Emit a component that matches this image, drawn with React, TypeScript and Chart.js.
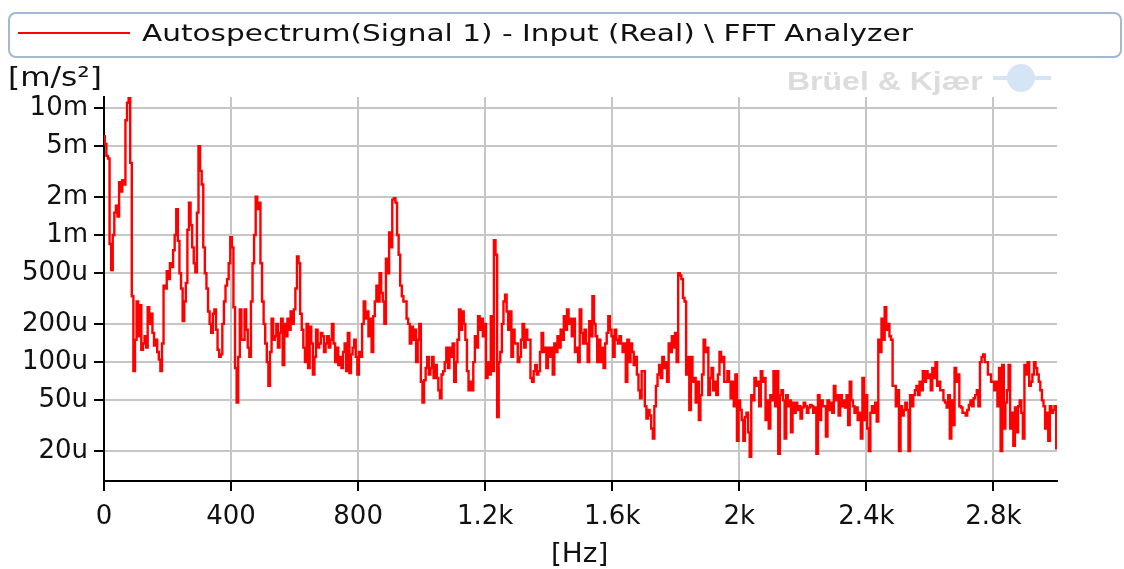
import React, { useEffect, useRef } from 'react';
import { Chart, registerables } from 'chart.js';

Chart.register(...registerables);

// FFT line spacing of the displayed spectrum (Hz)
const FREQ_STEP_HZ = 5;

// Autospectrum magnitude, in micro m/s² (u), one value per FFT line, 0 … 3000 Hz
const SPECTRUM_U = [
  6000, 5200, 4200, 4000, 850, 530, 1000, 1500, 1700, 1400, 2600, 2200, 2700, 2500, 8000, 11000, 12000, 3700, 330, 85,
  150, 300, 160, 280, 125, 140, 160, 130, 270, 200, 240, 170, 135, 150, 120, 105, 85, 140, 400, 380,
  520, 450, 600, 560, 760, 1000, 1600, 900, 500, 380, 210, 300, 420, 1100, 1800, 1200, 800, 600, 510, 1500,
  5000, 3200, 2500, 800, 500, 380, 250, 200, 170, 240, 260, 180, 125, 110, 115, 200, 300, 400, 450, 600,
  960, 800, 270, 90, 48, 110, 260, 150, 150, 260, 180, 130, 110, 300, 600, 1000, 2000, 1600, 1800, 600,
  300, 200, 140, 100, 65, 120, 220, 150, 160, 200, 130, 170, 220, 95, 200, 160, 220, 180, 250, 200,
  260, 380, 680, 600, 240, 180, 130, 100, 200, 90, 190, 140, 80, 110, 180, 130, 140, 170, 160, 120,
  140, 160, 130, 150, 200, 140, 100, 130, 95, 110, 90, 120, 140, 85, 170, 82, 115, 130, 150, 110,
  80, 120, 110, 200, 300, 220, 250, 160, 220, 120, 230, 300, 400, 300, 500, 350, 300, 200, 650, 500,
  1050, 800, 1900, 1950, 1800, 1000, 700, 400, 330, 300, 300, 220, 200, 140, 190, 150, 180, 100, 150, 200,
  70, 48, 72, 90, 110, 80, 90, 110, 75, 95, 75, 60, 52, 80, 85, 100, 130, 90, 130, 110,
  140, 70, 100, 150, 260, 180, 250, 200, 150, 85, 60, 70, 60, 100, 160, 130, 230, 180, 220, 160,
  200, 75, 100, 80, 230, 85, 910, 700, 37, 100, 120, 200, 300, 340, 250, 180, 250, 110, 180, 140,
  140, 100, 110, 150, 200, 130, 180, 150, 150, 75, 70, 85, 95, 80, 85, 120, 170, 120, 130, 90,
  130, 110, 130, 80, 140, 120, 160, 130, 180, 150, 230, 180, 260, 200, 220, 160, 220, 120, 130, 100,
  260, 170, 140, 180, 140, 100, 210, 160, 330, 200, 160, 100, 150, 100, 130, 90, 140, 170, 230, 180,
  160, 110, 180, 150, 140, 160, 140, 120, 140, 70, 150, 100, 140, 120, 95, 110, 80, 60, 52, 85,
  85, 45, 36, 42, 38, 30, 25, 45, 65, 80, 95, 75, 110, 90, 100, 70, 140, 120, 160, 130,
  170, 100, 500, 480, 450, 320, 300, 80, 110, 42, 110, 70, 75, 48, 70, 35, 55, 80, 150, 120,
  130, 55, 75, 90, 60, 70, 55, 80, 120, 100, 110, 70, 70, 85, 70, 52, 70, 45, 80, 24,
  50, 42, 35, 24, 37, 40, 28, 18, 55, 50, 75, 65, 70, 45, 85, 70, 75, 35, 50, 30,
  55, 50, 85, 45, 85, 19, 55, 60, 50, 25, 55, 45, 50, 28, 48, 40, 48, 42, 45, 36,
  44, 48, 45, 40, 44, 46, 45, 40, 44, 19, 55, 35, 50, 45, 45, 26, 50, 42, 48, 40,
  65, 50, 55, 38, 55, 45, 50, 44, 55, 32, 70, 50, 45, 40, 44, 35, 40, 25, 75, 35,
  55, 30, 20, 40, 45, 40, 48, 34, 150, 120, 220, 150, 270, 180, 200, 160, 150, 65, 65, 45,
  60, 20, 45, 38, 42, 48, 42, 20, 55, 45, 55, 60, 65, 55, 70, 60, 85, 70, 85, 75,
  80, 60, 90, 75, 100, 65, 70, 60, 60, 50, 48, 44, 55, 25, 50, 32, 90, 70, 80, 45,
  44, 40, 40, 38, 42, 46, 50, 45, 52, 55, 60, 45, 100, 110, 115, 100, 100, 80, 80, 70,
  70, 60, 70, 45, 90, 20, 95, 30, 48, 60, 95, 30, 40, 22, 44, 28, 45, 50, 40, 25,
  95, 80, 100, 65, 70, 80, 100, 90, 80, 70, 60, 50, 45, 30, 40, 24, 45, 40, 42, 45,
  21,
];

const X_MIN = 0;
const X_MAX = 3000;
const X_TICKS = [0, 400, 800, 1200, 1600, 2000, 2400, 2800];
const X_TICK_LABELS = ['0', '400', '800', '1.2k', '1.6k', '2k', '2.4k', '2.8k'];

const Y_MIN = 11.6e-6;
const Y_MAX = 12.2e-3;
const Y_TICKS = [20e-6, 50e-6, 100e-6, 200e-6, 500e-6, 1e-3, 2e-3, 5e-3, 10e-3];
const Y_TICK_LABELS = ['20u', '50u', '100u', '200u', '500u', '1m', '2m', '5m', '10m'];

const LEGEND_LABEL = 'Autospectrum(Signal 1) - Input (Real) \\ FFT Analyzer';
const Y_UNIT = '[m/s²]';
const X_UNIT = '[Hz]';
const WATERMARK = 'Brüel & Kjær';

const FONT = "'DejaVu Sans', Verdana, sans-serif";
const TEXT_COLOR = '#111111';
const GRID_COLOR = '#c6c6c6';

export default function App() {
  const canvasRef = useRef<HTMLCanvasElement>(null);

  useEffect(() => {
    const canvas = canvasRef.current;
    if (!canvas) return;
    const points = SPECTRUM_U.map((v, i) => ({ x: i * FREQ_STEP_HZ, y: v * 1e-6 }));
    const chart = new Chart(canvas, {
      type: 'line',
      data: {
        datasets: [
          {
            label: LEGEND_LABEL,
            data: points,
            borderColor: '#ff0000',
            borderWidth: 2.4,
            pointRadius: 0,
            stepped: 'middle',
            fill: false,
          },
        ],
      },
      options: {
        responsive: false,
        animation: false,
        events: [],
        layout: { padding: { top: 97, right: 67, left: 0, bottom: 0 } },
        plugins: {
          legend: { display: false },
          tooltip: { enabled: false },
          title: { display: false },
        },
        scales: {
          x: {
            type: 'linear',
            min: X_MIN,
            max: X_MAX,
            bounds: 'data',
            afterBuildTicks: (s: any) => {
              s.ticks = X_TICKS.map((v) => ({ value: v }));
            },
            afterFit: (s: any) => {
              s.height = 88;
            },
            ticks: {
              autoSkip: false,
              maxRotation: 0,
              padding: 11,
              color: TEXT_COLOR,
              font: { family: FONT, size: 26 },
              callback: (v: any) => {
                const i = X_TICKS.indexOf(Number(v));
                return i >= 0 ? X_TICK_LABELS[i] : '';
              },
            },
            grid: {
              color: GRID_COLOR,
              lineWidth: 2,
              tickColor: '#000000',
              tickLength: 10,
              tickWidth: 2,
            },
            border: { display: true, color: '#000000', width: 2 },
          },
          y: {
            type: 'logarithmic',
            min: Y_MIN,
            max: Y_MAX,
            bounds: 'data',
            afterBuildTicks: (s: any) => {
              s.ticks = Y_TICKS.map((v) => ({ value: v }));
            },
            afterFit: (s: any) => {
              s.width = 104;
            },
            ticks: {
              autoSkip: false,
              padding: 6,
              color: TEXT_COLOR,
              font: { family: FONT, size: 26 },
              callback: (v: any) => {
                const n = Number(v);
                const i = Y_TICKS.findIndex((t) => Math.abs(t - n) / t < 1e-6);
                return i >= 0 ? Y_TICK_LABELS[i] : '';
              },
            },
            grid: {
              color: GRID_COLOR,
              lineWidth: 2,
              tickColor: '#000000',
              tickLength: 10,
              tickWidth: 2,
            },
            border: { display: true, color: '#000000', width: 2 },
          },
        },
      },
    } as any);
    return () => chart.destroy();
  }, []);

  const textBase: React.CSSProperties = {
    position: 'absolute',
    fontFamily: FONT,
    color: TEXT_COLOR,
    whiteSpace: 'nowrap',
    lineHeight: 'normal',
    transformOrigin: 'left top',
  };

  return (
    <div style={{ position: 'absolute', left: 0, top: 0, width: 1124, height: 569, background: '#ffffff', overflow: 'hidden' }}>
      <canvas ref={canvasRef} width={1124} height={569} style={{ position: 'absolute', left: 0, top: 0 }} />
      {/* legend box */}
      <div
        style={{
          position: 'absolute',
          left: 8,
          top: 12,
          width: 1110,
          height: 42,
          border: '2px solid #a3b8d2',
          borderRadius: 8,
          boxSizing: 'content-box',
        }}
      />
      <div style={{ position: 'absolute', left: 18, top: 32, width: 112, height: 2, background: '#ff0000' }} />
      <div style={{ ...textBase, left: 142, top: 20, fontSize: 23, transform: 'scaleX(1.285)' }}>{LEGEND_LABEL}</div>
      {/* unit labels */}
      <div style={{ ...textBase, left: 8, top: 62, fontSize: 26, transform: 'scaleX(1.2)' }}>{Y_UNIT}</div>
      <div style={{ ...textBase, left: 551, top: 538, fontSize: 26, transform: 'scaleX(1.07)' }}>{X_UNIT}</div>
      {/* watermark */}
      <div
        style={{
          ...textBase,
          left: 787,
          top: 67,
          fontSize: 25,
          fontWeight: 'bold',
          fontFamily: "'Liberation Sans', Arial, sans-serif",
          color: '#dcdcdc',
          transform: 'scaleX(1.28)',
        }}
      >
        {WATERMARK}
      </div>
      <div style={{ position: 'absolute', left: 1007, top: 64, width: 28, height: 28, borderRadius: '50%', background: '#d6e5f6' }} />
      <div style={{ position: 'absolute', left: 993, top: 76, width: 58, height: 4, background: '#d6e5f6' }} />
    </div>
  );
}
